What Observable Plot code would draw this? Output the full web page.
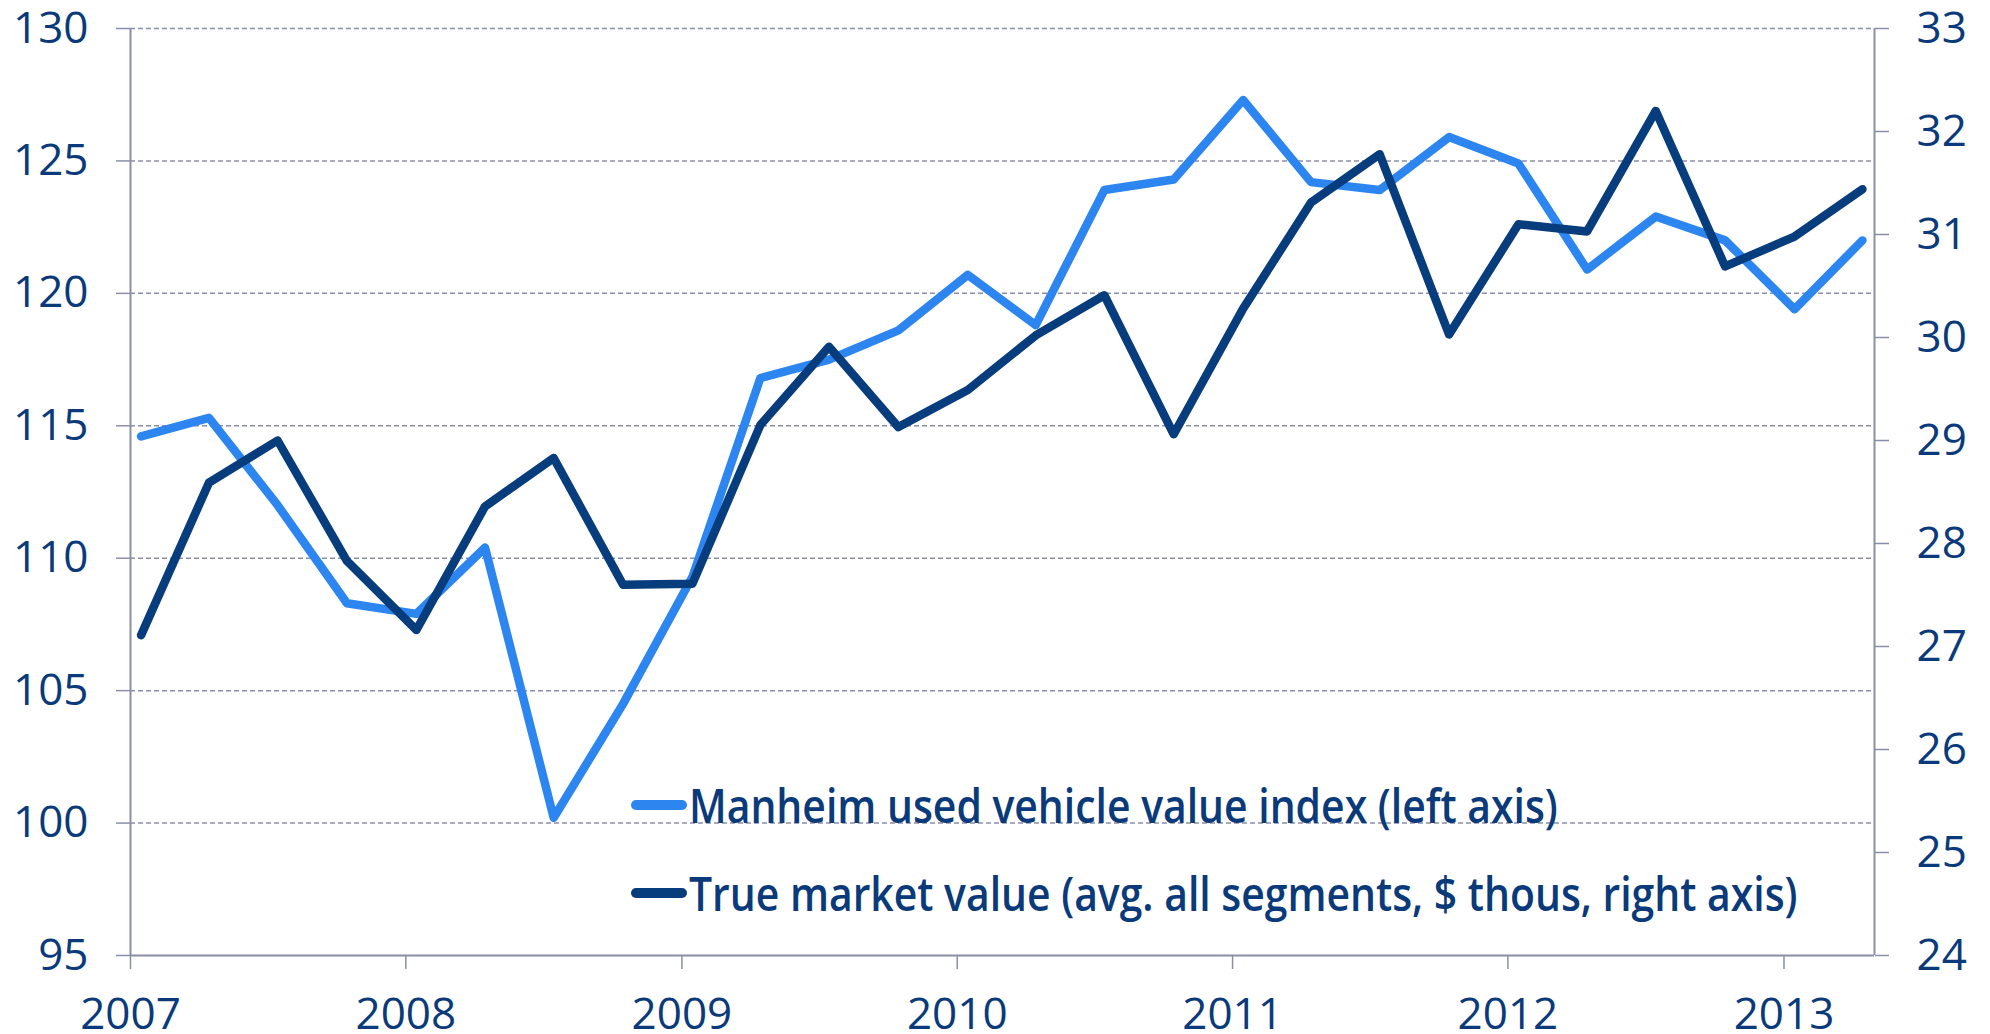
<!DOCTYPE html>
<html>
<head>
<meta charset="utf-8">
<script src="https://cdn.jsdelivr.net/npm/d3@7"></script>
<script src="https://cdn.jsdelivr.net/npm/@observablehq/plot@0.6"></script>
<style>
  html, body { margin: 0; padding: 0; background: #fff; }
  #wrap { position: relative; width: 1990px; height: 1034px; }
  #legend { position: absolute; left: 631px; top: 781px; font-family: "Open Sans", sans-serif; font-weight: 600; font-size: 47px; color: #0b3a7a; }
  .item { display: flex; align-items: center; height: 48px; white-space: nowrap; }
  .item + .item { margin-top: 40px; }
  .sw { display: inline-block; width: 56px; height: 10px; border-radius: 5px; margin-right: 2px; flex: none; }
  .lbl { display: inline-block; transform-origin: left center; }
</style>
</head>
<body>
<div id="wrap"></div>
<script>
// Quarterly observations (plotted mid-month of the first month of each quarter)
const dates = [
  "2007-01-15","2007-04-15","2007-07-15","2007-10-15",
  "2008-01-15","2008-04-15","2008-07-15","2008-10-15",
  "2009-01-15","2009-04-15","2009-07-15","2009-10-15",
  "2010-01-15","2010-04-15","2010-07-15","2010-10-15",
  "2011-01-15","2011-04-15","2011-07-15","2011-10-15",
  "2012-01-15","2012-04-15","2012-07-15","2012-10-15",
  "2013-01-15","2013-04-15"
];
// Manheim used vehicle value index (left axis)
const manheim = [
  114.6, 115.3, 112.0, 108.3,
  107.9, 110.4, 100.2, 104.5,
  109.3, 116.8, 117.5, 118.6,
  120.7, 118.8, 123.9, 124.3,
  127.3, 124.2, 123.9, 125.9,
  124.9, 120.9, 122.9, 122.0,
  119.4, 122.0
];
// True market value, avg. all segments, $ thousands (right axis)
const trueMarket = [
  27.11, 28.59, 29.00, 27.83,
  27.16, 28.36, 28.83, 27.60,
  27.61, 29.15, 29.91, 29.13,
  29.49, 30.02, 30.41, 29.06,
  30.28, 31.31, 31.78, 30.03,
  31.10, 31.03, 32.20, 30.69,
  30.98, 31.44
];
const leftTicks = [95, 100, 105, 110, 115, 120, 125, 130];
const rightTicks = [24, 25, 26, 27, 28, 29, 30, 31, 32, 33];
const yearTicks = ["2007","2008","2009","2010","2011","2012","2013"];
const seriesNames = ["Manheim used vehicle value index (left axis)", "True market value (avg. all segments, $ thous, right axis)"];
const seriesColors = ["#2d86f0", "#073c7d"];

const leftDomain = [95, 130];
const rightDomain = [24, 33];
const toLeft = v => leftDomain[0] + (v - rightDomain[0]) * (leftDomain[1] - leftDomain[0]) / (rightDomain[1] - rightDomain[0]);
const fromLeft = y => Math.round(rightDomain[0] + (y - leftDomain[0]) * (rightDomain[1] - rightDomain[0]) / (leftDomain[1] - leftDomain[0]));

const parse = d3.utcParse("%Y-%m-%d");
const rows = dates.map((d, i) => ({date: parse(d), manheim: manheim[i], tmv: toLeft(trueMarket[i])}));
const xDomain = [new Date(Date.UTC(2007, 0, 1)), new Date(Date.UTC(2013, 4, 1))];
const yearDates = yearTicks.map(y => new Date(Date.UTC(+y, 0, 1)));

const axisColor = "#8a8fa8";
const textColor = "#0b3a7a";

const chart = Plot.plot({
  width: 1990,
  height: 1034,
  marginLeft: 130,
  marginRight: 116,
  marginTop: 28,
  marginBottom: 79,
  x: {type: "utc", domain: xDomain},
  y: {domain: leftDomain},
  style: {fontFamily: "'Open Sans', sans-serif", fontSize: "44px", background: "#fff", color: textColor, overflow: "visible"},
  marks: [
    Plot.gridY(leftTicks.filter(t => t !== leftDomain[0]), {stroke: axisColor, strokeOpacity: 1, strokeWidth: 1.5, strokeDasharray: "5,3"}),
    Plot.ruleY([leftDomain[0]], {stroke: axisColor, strokeWidth: 2}),
    Plot.ruleX([xDomain[0]], {stroke: axisColor, strokeWidth: 2}),
    Plot.ruleX([xDomain[1]], {stroke: axisColor, strokeWidth: 2}),
    Plot.axisY(leftTicks, {anchor: "left", tickSize: 14, tickPadding: 28, stroke: axisColor, strokeWidth: 1.5, fill: textColor, label: null}),
    Plot.axisY(rightTicks.map(toLeft), {anchor: "right", tickSize: 14, tickPadding: 28, stroke: axisColor, strokeWidth: 1.5, fill: textColor, label: null, tickFormat: fromLeft}),
    Plot.axisX(yearDates, {anchor: "bottom", tickSize: 14, tickPadding: 28, stroke: axisColor, strokeWidth: 1.5, fill: textColor, label: null, tickFormat: d3.utcFormat("%Y")}),
    Plot.lineY(rows, {x: "date", y: "manheim", stroke: seriesColors[0], strokeWidth: 8.5, strokeLinejoin: "round", strokeLinecap: "round"}),
    Plot.lineY(rows, {x: "date", y: "tmv", stroke: seriesColors[1], strokeWidth: 8.5, strokeLinejoin: "round", strokeLinecap: "round"}),
  ]
});
document.getElementById("wrap").appendChild(chart);

const legend = document.createElement("div");
legend.id = "legend";
const labels = [];
seriesNames.forEach((name, i) => {
  const item = document.createElement("div");
  item.className = "item";
  const sw = document.createElement("span");
  sw.className = "sw";
  sw.style.background = seriesColors[i];
  const lbl = document.createElement("span");
  lbl.className = "lbl";
  lbl.textContent = name;
  item.appendChild(sw);
  item.appendChild(lbl);
  legend.appendChild(item);
  labels.push(lbl);
});
document.getElementById("wrap").appendChild(legend);
// condense the legend type (reference uses a condensed face)
const condense = 0.87;
labels.forEach(l => { l.style.transform = `scaleX(${condense})`; });
</script>
</body>
</html>
